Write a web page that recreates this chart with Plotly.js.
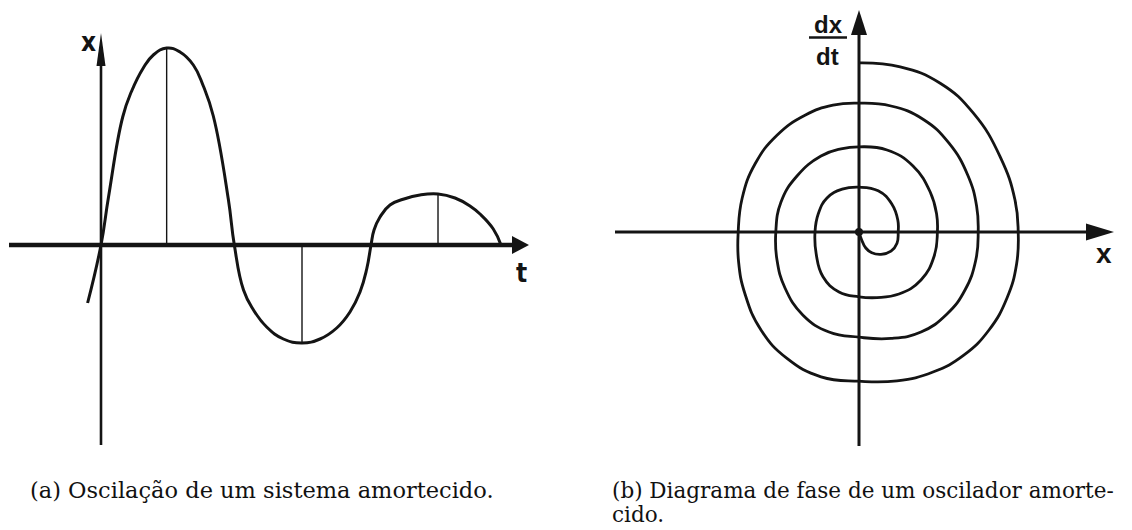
<!DOCTYPE html>
<html>
<head>
<meta charset="utf-8">
<script src="https://cdn.plot.ly/plotly-3.0.1.min.js"></script>
<style>
  html, body { margin: 0; padding: 0; background: #ffffff; }
  #fig { width: 1132px; height: 530px; }
</style>
</head>
<body>
<div id="fig"></div>
<script>
// (a) Damped oscillation x(t): points along the curve
const oscT = [-0.20, 0, 0.112, 0.324, 0.458, 0.631, 0.781, 0.98, 1.179, 1.378, 1.527, 1.676, 1.90, 1.99,
              2.127, 2.276, 2.473, 2.722, 3.0, 3.269, 3.518, 3.716, 3.866, 3.966, 4.03,
              4.075, 4.164, 4.313, 4.522, 4.761, 5.03, 5.284, 5.507, 5.657, 5.855, 5.97];
const oscX = [-0.58, 0, 0.48, 1.28, 1.54, 1.77, 1.90, 1.97, 1.93, 1.80, 1.59, 1.29, 0.46, 0,
              -0.45, -0.65, -0.82, -0.94, -0.98, -0.94, -0.83, -0.67, -0.47, -0.24, 0,
              0.15, 0.28, 0.40, 0.46, 0.50, 0.51, 0.47, 0.39, 0.31, 0.16, 0];

// Extrema of the oscillation (marked with vertical segments down to the t axis)
const peakT = [0.98, 3.0, 5.03];
const peakX = [1.97, -0.98, 0.51];

// (b) Phase-space trajectory (x, dx/dt) spiralling clockwise into the origin
const phaseX = [0, 1.03, 2.03, 2.86, 3.53, 3.90, 3.98,
                3.94, 3.70, 3.25, 2.62, 1.85, 0.95, 0,
                -0.95, -1.80, -2.45, -2.85, -3.01, -3.02,
                -2.92, -2.60, -2.05, -1.35, -0.65, 0,
                0.80, 1.60, 2.25, 2.72, 2.94, 2.98,
                2.92, 2.65, 2.20, 1.55, 0.80, 0,
                -0.75, -1.40, -1.85, -2.05, -2.08,
                -1.95, -1.55, -0.95, -0.45, 0,
                0.70, 1.35, 1.78, 1.94, 1.96,
                1.88, 1.55, 1.00, 0.45, 0,
                -0.50, -0.90, -1.07, -1.10,
                -1.02, -0.80, -0.42, 0,
                0.48, 0.82, 0.97, 0.98,
                0.95, 0.80, 0.55, 0.32, 0.17, 0.06, 0];
const phaseV = [4.23, 4.13, 3.72, 2.97, 1.88, 0.80, 0,
                -0.80, -1.65, -2.45, -3.08, -3.50, -3.72, -3.73,
                -3.62, -3.16, -2.45, -1.55, -0.75, 0,
                0.85, 1.70, 2.42, 2.92, 3.17, 3.22,
                3.15, 2.82, 2.22, 1.42, 0.65, 0,
                -0.70, -1.45, -2.05, -2.50, -2.66, -2.63,
                -2.50, -2.08, -1.40, -0.70, 0,
                0.75, 1.40, 1.90, 2.08, 2.13,
                2.05, 1.65, 1.00, 0.45, 0,
                -0.60, -1.20, -1.55, -1.64, -1.62,
                -1.50, -1.12, -0.55, 0,
                0.45, 0.85, 1.07, 1.12,
                1.03, 0.70, 0.30, 0,
                -0.28, -0.48, -0.56, -0.52, -0.40, -0.18, 0];

// Caption texts
const captionA = "(a) Oscilação de um sistema amortecido.";
const captionB1 = "(b) Diagrama de fase de um oscilador amorte-";
const captionB2 = "cido.";

const INK = "#141414";

// vertical segments from the t axis up/down to each extremum
const stemX = [], stemY = [];
peakT.forEach((t, i) => { stemX.push(t, t, null); stemY.push(0, peakX[i], null); });

const traces = [
  { x: oscT, y: oscX, xaxis: "x", yaxis: "y", mode: "lines",
    line: { color: INK, width: 3, shape: "spline", smoothing: 1.3, simplify: false }, hoverinfo: "skip" },
  { x: stemX, y: stemY, xaxis: "x", yaxis: "y", mode: "lines",
    line: { color: INK, width: 1.4, simplify: false }, hoverinfo: "skip" },
  { x: phaseX, y: phaseV, xaxis: "x2", yaxis: "y2", mode: "lines",
    line: { color: INK, width: 2.8, shape: "spline", smoothing: 1.3, simplify: false }, hoverinfo: "skip" }
];

const hidden = { visible: false, showgrid: false, zeroline: false, fixedrange: true };

// arrowhead helper: pixel-sized filled triangle anchored at a data point
function arrowHead(xref, yref, ax, ay, path) {
  return { type: "path", xref: xref, yref: yref, xsizemode: "pixel", ysizemode: "pixel",
           xanchor: ax, yanchor: ay, path: path, fillcolor: INK, line: { width: 0 } };
}

const shapes = [
  // (a) axes
  { type: "line", xref: "x", yref: "y", x0: -1.373, x1: 6.2, y0: 0, y1: 0, line: { color: INK, width: 4.5 } },
  arrowHead("x", "y", 6.388, 0, "M0,0 L-17,9 L-17,-9 Z"),
  { type: "line", xref: "x", yref: "y", x0: 0, x1: 0, y0: -2.0, y1: 1.9, line: { color: INK, width: 2.6 } },
  arrowHead("x", "y", 0, 2.12, "M0,0 L-4.5,-33 L4.5,-33 Z"),
  // (b) axes
  { type: "line", xref: "x2", yref: "y2", x0: -6.1, x1: 6.0, y0: 0, y1: 0, line: { color: INK, width: 3 } },
  arrowHead("x2", "y2", 6.375, 0, "M0,0 L-28,8.5 L-28,-8.5 Z"),
  { type: "line", xref: "x2", yref: "y2", x0: 0, x1: 0, y0: -5.35, y1: 5.2, line: { color: INK, width: 3 } },
  arrowHead("x2", "y2", 0, 5.55, "M0,0 L-8,-25 L8,-25 Z"),
  // fraction bar of dx/dt
  { type: "line", xref: "x2", yref: "y2", x0: -1.25, x1: -0.3, y0: 4.8625, y1: 4.8625, line: { color: INK, width: 2.5 } },
  // fixed point at the origin
  { type: "circle", xref: "x2", yref: "y2", xsizemode: "pixel", ysizemode: "pixel",
    xanchor: 0, yanchor: 0, x0: -4, x1: 4, y0: -4, y1: 4, fillcolor: INK, line: { width: 0 } }
];

const labelFont = { family: "Liberation Sans, Arial, sans-serif", size: 24, color: INK, weight: "bold" };
const narrowFont = { family: "DejaVu Sans Condensed, Liberation Sans Narrow, Liberation Sans, sans-serif", size: 26, color: INK, weight: "bold" };
const capFontA = { family: "DejaVu Serif, serif", size: 22.5, color: "#111111" };
const capFontB = { family: "DejaVu Serif, serif", size: 21.5, color: "#111111" };

const annotations = [
  { xref: "x", yref: "y", x: -0.18, y: 2.03, text: "x", showarrow: false, font: narrowFont },
  { xref: "x", yref: "y", x: 6.28, y: -0.28, text: "t", showarrow: false, font: narrowFont },
  { xref: "x2", yref: "y2", x: 6.125, y: -0.525, text: "x", showarrow: false, font: Object.assign({}, labelFont, { size: 28 }) },
  { xref: "x2", yref: "y2", x: -0.775, y: 5.2, text: "dx", showarrow: false, font: labelFont },
  { xref: "x2", yref: "y2", x: -0.8, y: 4.4, text: "dt", showarrow: false, font: labelFont },
  { xref: "paper", yref: "paper", x: 28 / 1132, y: 1 - 490 / 530, xanchor: "left", yanchor: "middle",
    text: captionA, showarrow: false, font: capFontA },
  { xref: "paper", yref: "paper", x: 610 / 1132, y: 1 - 490 / 530, xanchor: "left", yanchor: "middle",
    text: captionB1, showarrow: false, font: capFontB },
  { xref: "paper", yref: "paper", x: 610 / 1132, y: 1 - 514 / 530, xanchor: "left", yanchor: "middle",
    text: captionB2, showarrow: false, font: capFontB }
];

const layout = {
  width: 1132, height: 530,
  margin: { l: 0, r: 0, t: 0, b: 0, pad: 0 },
  paper_bgcolor: "#ffffff", plot_bgcolor: "#ffffff",
  showlegend: false,
  xaxis: Object.assign({ domain: [0, 560 / 1132], range: [-1.5075, 6.8507] }, hidden),
  yaxis: Object.assign({ domain: [0, 1], range: [-2.85, 2.45] }, hidden),
  xaxis2: Object.assign({ domain: [580 / 1132, 1], range: [-6.975, 6.825] }, hidden),
  yaxis2: Object.assign({ domain: [0, 1], range: [-7.45, 5.8] }, hidden),
  shapes: shapes,
  annotations: annotations
};

Plotly.newPlot("fig", traces, layout, { staticPlot: true, displayModeBar: false });
</script>
</body>
</html>
